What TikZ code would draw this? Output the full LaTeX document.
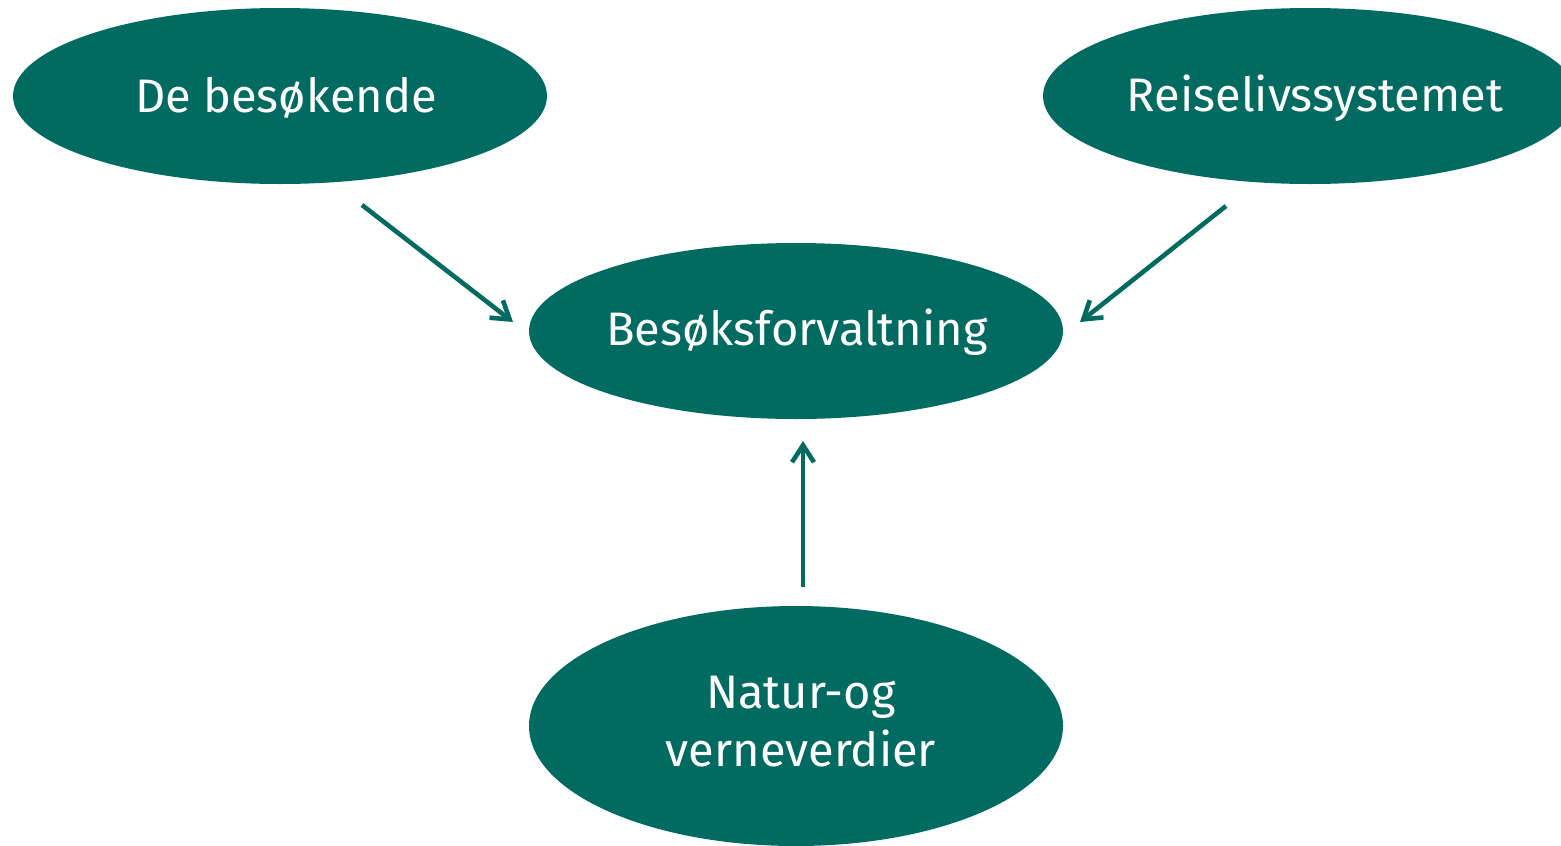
\documentclass[tikz,border=0pt]{standalone}
\usepackage{fontspec}
\setmainfont{Fira Sans}
\usetikzlibrary{shapes.geometric,arrows.meta}
\definecolor{teal1}{RGB}{1,107,98}
\tikzset{
  oval/.style={ellipse,fill=teal1,text=white,inner sep=0pt,minimum width=534pt,minimum height=176pt,font=\fontsize{47}{58}\selectfont,align=center},
  conn/.style={draw=teal1,line width=4.6pt,-{Straight Barb[length=17pt,width=22pt,line width=4.6pt]}}
}
\begin{document}
\begin{tikzpicture}[x=1pt,y=-1pt]
\useasboundingbox (0,0) rectangle (1561,846);
\clip (0,0) rectangle (1561,846);
\node[oval] (besok) at (280,96) {};
\node[oval] (reise) at (1310,96) {};
\node[oval] (forv) at (796,331) {};
\node[oval,minimum height=240pt] (natur) at (796,726) {};
\node[font=\fontsize{47}{58}\selectfont,text=white] (tbesok) at (286,98) {De besøkende};
\node[font=\fontsize{47}{58}\selectfont,text=white] (treise) at (1315,98) {Reiselivssystemet};
\node[font=\fontsize{47}{58}\selectfont,text=white] (tforv) at (797,332) {Besøksforvaltning};
\node[font=\fontsize{47}{58}\selectfont,text=white,align=center] (tnatur) at (801,722) {Natur-og\\verneverdier};
\coordinate (a1s) at (362,205);
\coordinate (a1e) at (513,322);
\coordinate (a2s) at (1226,206);
\coordinate (a2e) at (1080,322);
\coordinate (a3s) at (803,587);
\coordinate (a3e) at (803,441);
\draw[conn] (a1s) -- (a1e);
\draw[conn] (a2s) -- (a2e);
\draw[conn] (a3s) -- (a3e);
\end{tikzpicture}
\end{document}
